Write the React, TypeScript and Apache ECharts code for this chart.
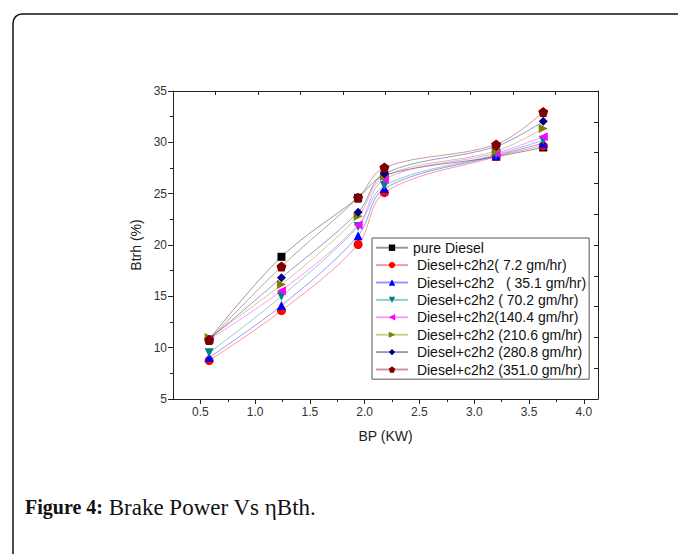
import React, { useEffect, useRef } from "react";
import * as echarts from "echarts";

const xValues = [0.58, 1.24, 1.94, 2.18, 3.2, 3.63];

const seriesNames = [
  "pure Diesel",
  " Diesel+c2h2( 7.2 gm/hr)",
  " Diesel+c2h2   ( 35.1 gm/hr)",
  " Diesel+c2h2 ( 70.2 gm/hr)",
  " Diesel+c2h2(140.4 gm/hr)",
  " Diesel+c2h2 (210.6 gm/hr)",
  " Diesel+c2h2 (280.8 gm/hr)",
  " Diesel+c2h2 (351.0 gm/hr)",
];

const pureDiesel = [10.8, 18.85, 24.6, 26.8, 28.6, 29.5];
const c2h2_7_2 = [8.75, 13.6, 20.05, 25.1, 28.6, 29.65];
const c2h2_35_1 = [9.05, 14.1, 20.9, 25.5, 28.7, 29.9];
const c2h2_70_2 = [9.5, 15.0, 21.8, 25.8, 28.8, 30.2];
const c2h2_140_4 = [10.8, 15.55, 21.95, 26.4, 28.95, 30.55];
const c2h2_210_6 = [11.0, 16.15, 22.8, 26.7, 29.15, 31.35];
const c2h2_280_8 = [10.8, 16.8, 23.2, 26.95, 29.6, 32.05];
const c2h2_351_0 = [10.75, 17.9, 24.6, 27.55, 29.8, 32.95];

const allValues = [
  pureDiesel,
  c2h2_7_2,
  c2h2_35_1,
  c2h2_70_2,
  c2h2_140_4,
  c2h2_210_6,
  c2h2_280_8,
  c2h2_351_0,
];

const colors = ["#000000", "#ff0000", "#0000ff", "#008080", "#ff00ff", "#808000", "#000080", "#800000"];
const symbols = [
  "rect",
  "circle",
  "triangle",
  "triangle",
  "triangle",
  "triangle",
  "diamond",
  "path://M0,-1 L0.951,-0.309 L0.588,0.809 L-0.588,0.809 L-0.951,-0.309 Z",
];
const rotations = [0, 0, 0, 180, 90, -90, 0, 0];
const symbolSizes = [8, 9, 9, 9, 9, 9, 9, 10];

const xMajorTicks = [0.5, 1.0, 1.5, 2.0, 2.5, 3.0, 3.5, 4.0];
const xMinorTicks = [0.75, 1.25, 1.75, 2.25, 2.75, 3.25, 3.75];

const FONT = "Liberation Sans, Arial, sans-serif";
const SERIF = "Liberation Serif, Times New Roman, serif";

export default function App() {
  const ref = useRef<HTMLDivElement>(null);

  useEffect(() => {
    if (!ref.current) return;
    const chart = echarts.init(ref.current, null, { renderer: "svg" });

    const series = allValues.map((vals, i) => ({
      name: seriesNames[i],
      type: "line",
      xAxisIndex: 0,
      yAxisIndex: 0,
      smooth: 0.35,
      data: vals.map((v, j) => [xValues[j], v]),
      symbol: symbols[i],
      symbolSize: symbolSizes[i],
      symbolRotate: rotations[i],
      itemStyle: { color: colors[i], opacity: 1 },
      lineStyle: { color: colors[i], width: 1, opacity: 0.4 },
      z: 2 + i,
    }));

    chart.setOption({
      animation: false,
      backgroundColor: "#ffffff",
      grid: { left: 173, top: 91, right: 80, bottom: 155, containLabel: false },
      legend: {
        orient: "vertical",
        left: 372,
        top: 238,
        itemWidth: 32,
        itemHeight: 8,
        itemGap: 0,
        padding: [1, 3, 1, 3],
        borderColor: "#555",
        borderWidth: 1,
        textStyle: { fontFamily: FONT, fontSize: 14, color: "#111", lineHeight: 17.4 },
        data: seriesNames,
      },
      xAxis: [
        {
          type: "value",
          position: "bottom",
          min: 0.25,
          max: 4.13,
          splitLine: { show: false },
          axisLine: { show: true, onZero: false, lineStyle: { color: "#222", width: 1 } },
          axisTick: { show: true, inside: false, length: 5, customValues: xMajorTicks, lineStyle: { color: "#222" } },
          axisLabel: {
            show: true,
            customValues: xMajorTicks,
            formatter: (v: number) => v.toFixed(1),
            fontFamily: FONT,
            fontSize: 12,
            color: "#333",
            margin: 7,
          },
          name: "BP (KW)",
          nameLocation: "middle",
          nameGap: 30,
          nameTextStyle: { fontFamily: FONT, fontSize: 14, color: "#222" },
        },
        {
          type: "value",
          position: "bottom",
          min: 0.25,
          max: 4.13,
          splitLine: { show: false },
          axisLine: { show: false },
          axisTick: { show: true, inside: false, length: 3, customValues: xMinorTicks, lineStyle: { color: "#222" } },
          axisLabel: { show: false },
        },
        {
          type: "value",
          position: "top",
          min: 0,
          max: 10,
          interval: 1,
          splitLine: { show: false },
          axisLine: { show: true, onZero: false, lineStyle: { color: "#222", width: 1 } },
          axisTick: { show: true, inside: true, length: 4, lineStyle: { color: "#222" } },
          axisLabel: { show: false },
        },
      ],
      yAxis: [
        {
          type: "value",
          position: "left",
          min: 5,
          max: 35,
          interval: 5,
          splitLine: { show: false },
          axisLine: { show: true, onZero: false, lineStyle: { color: "#222", width: 1 } },
          axisTick: { show: true, inside: false, length: 5, lineStyle: { color: "#222" } },
          minorTick: { show: true, splitNumber: 2, length: 3, lineStyle: { color: "#222" } },
          minorSplitLine: { show: false },
          axisLabel: { fontFamily: FONT, fontSize: 12, color: "#333", margin: 6 },
          name: "Btrh (%)",
          nameLocation: "middle",
          nameGap: 30,
          nameTextStyle: { fontFamily: FONT, fontSize: 14, color: "#222" },
        },
        {
          type: "value",
          position: "right",
          min: 0,
          max: 10,
          interval: 1,
          splitLine: { show: false },
          axisLine: { show: true, onZero: false, lineStyle: { color: "#222", width: 1 } },
          axisTick: { show: true, inside: true, length: 4, lineStyle: { color: "#222" } },
          axisLabel: { show: false },
        },
      ],
      series,
      graphic: [
        {
          type: "rect",
          shape: { x: 13, y: 14, width: 720, height: 700, r: 9 },
          style: { fill: "none", stroke: "#111", lineWidth: 1.5 },
          silent: true,
        },
        {
          type: "text",
          x: 25,
          y: 507,
          style: {
            text: "{b|Figure 4:} Brake Power Vs ηBth.",
            fontFamily: SERIF,
            fontSize: 23,
            fill: "#111",
            verticalAlign: "middle",
            rich: {
              b: {
                fontFamily: SERIF,
                fontSize: 20,
                fontWeight: "bold",
                fill: "#111",
              },
            },
          },
        },
      ],
    });

    return () => chart.dispose();
  }, []);

  return (
    <div
      ref={ref}
      style={{ position: "fixed", left: 0, top: 0, width: 678, height: 554, background: "#fff" }}
    />
  );
}
